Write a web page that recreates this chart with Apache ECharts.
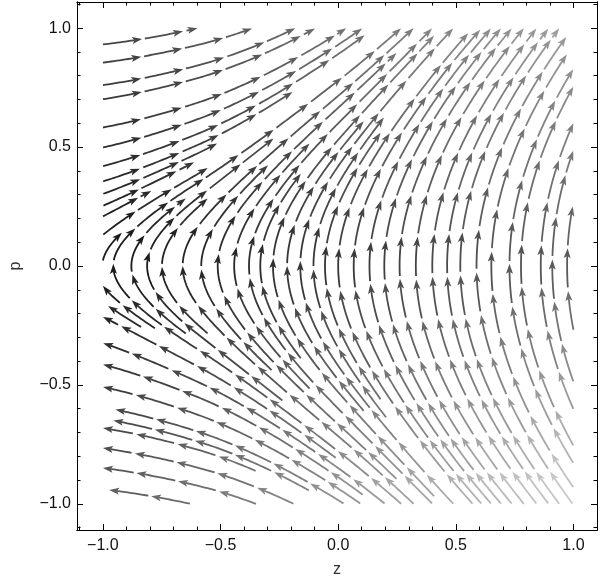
<!DOCTYPE html>
<html>
<head>
<meta charset="utf-8">
<script src="https://cdn.jsdelivr.net/npm/echarts@6/dist/echarts.min.js"></script>
<style>
html,body{margin:0;padding:0;background:#fff}
#chart{width:600px;height:583px}
</style>
</head>
<body>
<div id="chart"></div>
<script>
// field: dz/dt = p, dp/dt = g(z)
var fieldZ = [-1.1, -0.6, -0.3, 0.0, 0.4, 1.1];
var fieldG = [0.08, 0.22, 0.40, 0.60, 1.00, 1.40];

// turning points of the streams on p = 0
var vertexZ = [-0.956, -0.879, -0.812, -0.749, -0.661, -0.582, -0.512, -0.442, -0.379, -0.331,
    -0.277, -0.217, -0.161, -0.105, -0.056, 0.0, 0.066, 0.133, 0.196, 0.261, 0.33, 0.4,
    0.463, 0.519, 0.588, 0.651, 0.728, 0.777, 0.861, 0.91, 0.973];
// streams that reach the left side (upper ones run right, lower ones run left)
var leftTopP = [0.935, 0.859, 0.765, 0.706, 0.675, 0.588, 0.505, 0.428, 0.365, 0.314, 0.266, 0.224, 0.154, 0.085];
var leftBottomP = [-0.117, -0.173, -0.229, -0.334, -0.422, -0.515, -0.599, -0.647, -0.686, -0.72, -0.77, -0.853, -0.942];

var majorTicks = [-1.0, -0.5, 0.0, 0.5, 1.0];
var minorTicks = [-1.1, -1.0, -0.9, -0.8, -0.7, -0.6, -0.5, -0.4, -0.3, -0.2, -0.1, 0.0,
    0.1, 0.2, 0.3, 0.4, 0.5, 0.6, 0.7, 0.8, 0.9, 1.0, 1.1];

function g(z){
    if(z<=fieldZ[0]) return fieldG[0];
    for(var i=1;i<fieldZ.length;i++){
        if(z<=fieldZ[i]){
            var t=(z-fieldZ[i-1])/(fieldZ[i]-fieldZ[i-1]);
            return fieldG[i-1]+t*(fieldG[i]-fieldG[i-1]);
        }
    }
    return fieldG[fieldG.length-1];
}
function dir(z,p,sgn){
    var a=p,b=g(z);
    var m=Math.sqrt(a*a+b*b)||1;
    return [sgn*a/m,sgn*b/m];
}

// spatial hash so streams keep apart
var cell=0.08, hash={};
function near(z,p,d,own){
    var ci=Math.floor(z/cell),cj=Math.floor(p/cell);
    for(var di=-1;di<=1;di++){
        for(var dj=-1;dj<=1;dj++){
            var arr=hash[(ci+di)+','+(cj+dj)];
            if(!arr) continue;
            for(var k=0;k<arr.length;k++){
                var q=arr[k];
                if(q[2]===own) continue;
                var dz=q[0]-z,dp=q[1]-p;
                if(dz*dz+dp*dp<d*d) return true;
            }
        }
    }
    return false;
}
function addLine(pts,id){
    for(var i=0;i<pts.length;i++){
        var k=Math.floor(pts[i][0]/cell)+','+Math.floor(pts[i][1]/cell);
        (hash[k]=hash[k]||[]).push([pts[i][0],pts[i][1],id]);
    }
}

var H=0.003, DTEST=0.028, DSEP=0.06;
function trace(z,p,sgn,id){
    var pts=[];
    for(var k=0;k<1500;k++){
        var d1=dir(z,p,sgn);
        var d2=dir(z+d1[0]*H/2,p+d1[1]*H/2,sgn);
        var zn=z+d2[0]*H,pn=p+d2[1]*H;
        if(zn<-1||zn>1||pn<-1||pn>1) break;
        if(near(zn,pn,DTEST,id)) break;
        z=zn;p=pn;
        pts.push([z,p]);
    }
    return pts;
}

var lines=[];
function seed(z,p,dseed){
    if(near(z,p,dseed,-1)) return;
    var id=lines.length;
    var line=trace(z,p,-1,id).reverse().concat([[z,p]],trace(z,p,1,id));
    if(line.length*H<0.1) return;
    addLine(line,id);
    lines.push(line);
}

vertexZ.forEach(function(z){ seed(z,0,0.035); });
leftTopP.forEach(function(p){ seed(-0.97,p,0.035); });
leftBottomP.forEach(function(p){ seed(-0.97,p,0.035); });
for(var sz=-0.96;sz<0.97;sz+=0.04){
    for(var sp=-0.96;sp<0.97;sp+=0.04){ seed(sz,sp,DSEP); }
}

function shade(z,p){
    var L=20+35*(z+1)+60*Math.abs(p)-12*p+25*(z+1)*Math.max(-p,0)+12*(z+1)*Math.max(p,0);
    L=Math.max(0,Math.min(225,Math.round(L)));
    return 'rgb('+L+','+L+','+L+')';
}

// cut each stream into arrows
var SEG=0.165, GAP=0.012;
var segs=[];
function pushSeg(cur,len){
    if(cur.length<2||len<0.04) return;
    var pts=[];
    for(var i=0;i<cur.length;i+=4) pts.push(cur[i]);
    if(pts[pts.length-1]!==cur[cur.length-1]) pts.push(cur[cur.length-1]);
    var mid=cur[Math.floor(cur.length/2)];
    segs.push({pts:pts,color:shade(mid[0],mid[1])});
}
lines.forEach(function(line){
    var cur=[line[0]],len=0;
    for(var i=1;i<line.length;i++){
        var dz=line[i][0]-line[i-1][0],dp=line[i][1]-line[i-1][1];
        len+=Math.sqrt(dz*dz+dp*dp);
        cur.push(line[i]);
        if(len>=SEG){
            pushSeg(cur,len);
            var skip=0;
            while(i+1<line.length&&skip<GAP){
                i++;
                var ez=line[i][0]-line[i-1][0],ep=line[i][1]-line[i-1][1];
                skip+=Math.sqrt(ez*ez+ep*ep);
            }
            cur=[line[i]];len=0;
        }
    }
    pushSeg(cur,len);
});

function renderItem(params,api){
    var s=segs[api.value(2)];
    var pts=s.pts.map(function(q){return api.coord(q);});
    var n=pts.length,E=pts[n-1],P=pts[Math.max(0,n-3)];
    var dx=E[0]-P[0],dy=E[1]-P[1],m=Math.sqrt(dx*dx+dy*dy)||1;
    dx/=m;dy/=m;
    var hl=10,hw=3.5;
    var bx=E[0]-dx*hl,by=E[1]-dy*hl;
    var notch=[E[0]-dx*hl*0.78,E[1]-dy*hl*0.78];
    var head=[E,[bx-dy*hw,by+dx*hw],notch,[bx+dy*hw,by-dx*hw]];
    var body=[];
    for(var i=0;i<n-1;i++){
        var ex=pts[i][0]-E[0],ey=pts[i][1]-E[1];
        if(Math.sqrt(ex*ex+ey*ey)>hl*0.78) body.push(pts[i]);
    }
    body.push(notch);
    return {
        type:'group',
        children:[
            {type:'polyline',shape:{points:body},style:{stroke:s.color,lineWidth:1.8,fill:null}},
            {type:'polygon',shape:{points:head},style:{fill:s.color}}
        ]
    };
}

function fmt(v){
    return (v<0?'\u2212':'')+Math.abs(v).toFixed(1);
}
var font='"Liberation Sans", Arial, sans-serif';
var zMin=-1.11, zMax=1.1, pMin=-1.11, pMax=1.11;

function axis(kind,pos,ticks,len,labels,name){
    var a={
        type:'value',position:pos,
        min:kind==='x'?zMin:pMin,max:kind==='x'?zMax:pMax,
        axisLine:{show:true,onZero:false,lineStyle:{color:'#000',width:1}},
        axisTick:{show:true,inside:true,length:len,customValues:ticks,lineStyle:{color:'#000',width:1}},
        axisLabel:{show:labels,customValues:majorTicks,formatter:fmt,color:'#111',fontSize:16,fontFamily:font,margin:kind==='x'?8:6},
        splitLine:{show:false}
    };
    if(name){
        a.name=name;a.nameLocation='middle';
        a.nameGap=kind==='x'?32:53;
        a.nameTextStyle={color:'#333',fontSize:16,fontFamily:font};
    }
    return a;
}

var chart=echarts.init(document.getElementById('chart'));
chart.setOption({
    animation:false,
    grid:{left:70,right:3,top:2,bottom:51},
    xAxis:[
        axis('x','bottom',majorTicks,6,true,'z'),
        axis('x','bottom',minorTicks,3.5,false),
        axis('x','top',majorTicks,6,false),
        axis('x','top',minorTicks,3.5,false)
    ],
    yAxis:[
        axis('y','left',majorTicks,6,true,'p'),
        axis('y','left',minorTicks,3.5,false),
        axis('y','right',majorTicks,6,false),
        axis('y','right',minorTicks,3.5,false)
    ],
    series:[{
        type:'custom',
        xAxisIndex:0,yAxisIndex:0,
        renderItem:renderItem,
        encode:{x:0,y:1},
        data:segs.map(function(s,i){return [s.pts[0][0],s.pts[0][1],i];})
    }]
});
</script>
</body>
</html>
